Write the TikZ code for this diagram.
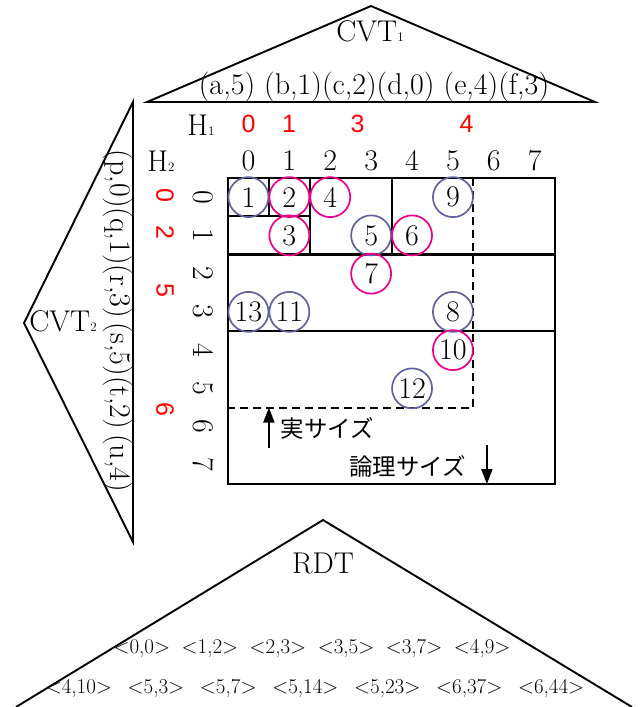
\documentclass[tikz,border=0pt]{standalone}
\usepackage{fontspec}
\usepackage{xcolor}
\usepackage{tikz}
\usetikzlibrary{arrows.meta}
\newfontfamily\redfont{Liberation Sans}
\newfontfamily\jpfont{Noto Sans CJK JP}
\definecolor{cvtblue}{RGB}{98,98,158}
\newcommand{\tinysub}[1]{{\fontsize{13}{13}\selectfont #1}}

\begin{document}
\begin{tikzpicture}[x=1pt, y=-1pt,
    big/.style={font=\fontsize{30}{36}\selectfont, inner sep=0pt},
    hred/.style={font=\redfont\fontsize{25}{30}\selectfont, text=red, inner sep=0pt},
    rdtrow/.style={font=\fontsize{21}{25}\selectfont, inner sep=0pt},
    jp/.style={font=\jpfont\fontsize{23.5}{28}\selectfont, inner sep=0pt, anchor=west},
    tri/.style={line width=1.9pt, line join=miter},
    rec/.style={circle, draw, line width=1.7pt, minimum size=40pt, inner sep=0pt,
                font=\fontsize{30}{36}\selectfont},
    old/.style={rec, draw=cvtblue},
    new/.style={rec, draw=magenta},
    sizearrow/.style={line width=1.9pt, -{Triangle[length=15pt, width=11pt]}}]
  \useasboundingbox (0,0) rectangle (642,707);

  % CVT1 (top)
  \coordinate (t1l) at (147,102);
  \coordinate (t1a) at (371,6);
  \coordinate (t1r) at (595,102);
  \draw[tri] (t1l) -- (t1a) -- (t1r) -- cycle;
  \node[big] (cvt1) at (370,31) {CVT\tinysub{1}};
  \node[big] (cvt1keys) at (374,87.5) {(a,5) (b,1)(c,2)(d,0) (e,4)(f,3)};

  % CVT2 (left)
  \coordinate (t2t) at (133,102);
  \coordinate (t2a) at (24,323);
  \coordinate (t2b) at (133,542);
  \draw[tri] (t2t) -- (t2a) -- (t2b) -- cycle;
  \node[big] (cvt2) at (63,321) {CVT\tinysub{2}};
  \node[big, rotate=-90] (cvt2keys) at (118,321) {(p,0)(q,1)(r,3)\,(s,5)(t,2)\,(u,4)};

  % history tables
  \node[big] (h1) at (201,125.5) {H\tinysub{1}};
  \node[big] (h2) at (161,161.5) {H\tinysub{2}};
  \node[hred] (h1a) at (248.5,123.5) {0};
  \node[hred] (h1b) at (289,123.5) {1};
  \node[hred] (h1c) at (357.5,123.5) {3};
  \node[hred] (h1d) at (466.5,123.5) {4};
  \node[hred, rotate=-90] (h2a) at (165,195) {0};
  \node[hred, rotate=-90] (h2b) at (165,232.5) {2};
  \node[hred, rotate=-90] (h2c) at (165,290) {5};
  \node[hred, rotate=-90] (h2d) at (165,409) {6};

  % logical array
  \begin{scope}[shift={(228,178)}, x=40.9pt, y=-38.25pt]
    \node[big] (col0) at (0.5,-0.45) {0};
    \node[big] (col1) at (1.5,-0.45) {1};
    \node[big] (col2) at (2.5,-0.45) {2};
    \node[big] (col3) at (3.5,-0.45) {3};
    \node[big] (col4) at (4.5,-0.45) {4};
    \node[big] (col5) at (5.5,-0.45) {5};
    \node[big] (col6) at (6.5,-0.45) {6};
    \node[big] (col7) at (7.5,-0.45) {7};
    \node[big, rotate=-90] (row0) at (-0.6,0.5) {0};
    \node[big, rotate=-90] (row1) at (-0.6,1.5) {1};
    \node[big, rotate=-90] (row2) at (-0.6,2.5) {2};
    \node[big, rotate=-90] (row3) at (-0.6,3.5) {3};
    \node[big, rotate=-90] (row4) at (-0.6,4.5) {4};
    \node[big, rotate=-90] (row5) at (-0.6,5.5) {5};
    \node[big, rotate=-90] (row6) at (-0.6,6.5) {6};
    \node[big, rotate=-90] (row7) at (-0.6,7.5) {7};

    \draw[line width=2.2pt] (0,0) rectangle (8,8);
    \draw[line width=2.2pt] (0,2) -- (8,2) (0,4) -- (8,4);
    \draw[line width=2.2pt] (0,1) -- (2,1) (1,0) -- (1,1) (2,0) -- (2,2) (4,0) -- (4,2);
    \draw[line width=2pt, dash pattern=on 8pt off 5pt] (6,0) -- (6,6) -- (0,6);

    \node[old] (r1)  at (0.5,0.5) {1};
    \node[new] (r2)  at (1.5,0.5) {2};
    \node[new] (r4)  at (2.5,0.5) {4};
    \node[old] (r9)  at (5.5,0.5) {9};
    \node[new] (r3)  at (1.5,1.5) {3};
    \node[old] (r5)  at (3.5,1.5) {5};
    \node[new] (r6)  at (4.5,1.5) {6};
    \node[new] (r7)  at (3.5,2.5) {7};
    \node[old] (r13) at (0.5,3.5) {13};
    \node[old] (r11) at (1.5,3.5) {11};
    \node[old] (r8)  at (5.5,3.5) {8};
    \node[new] (r10) at (5.5,4.5) {10};
    \node[old] (r12) at (4.5,5.5) {12};

    \coordinate (realtail) at (1,7.05);
    \coordinate (realhead) at (1,6);
    \draw[sizearrow] (realtail) -- (realhead);
    \node[jp] (real) at (1.28,6.54) {実サイズ};
    \coordinate (logtail) at (6.33,6.98);
    \coordinate (loghead) at (6.33,8);
    \draw[sizearrow] (logtail) -- (loghead);
    \node[jp] (logical) at (2.96,7.53) {論理サイズ};
  \end{scope}

  % RDT (bottom)
  \coordinate (rdtl) at (16,707);
  \coordinate (rdta) at (323,520);
  \coordinate (rdtr) at (632,707);
  \draw[tri] (rdtl) -- (rdta) -- (rdtr);
  \node[big] (rdt) at (323,563) {RDT};
  \node[rdtrow] (rdtkeys1) at (312,648)
    {<0,0>\hspace{0.55em}<1,2>\hspace{0.55em}<2,3>\hspace{0.55em}<3,5>\hspace{0.55em}<3,7>\hspace{0.55em}<4,9>};
  \node[rdtrow] (rdtkeys2) at (315,688)
    {<4,10>\hspace{0.75em}<5,3>\hspace{0.75em}<5,7>\hspace{0.75em}<5,14>\hspace{0.75em}<5,23>\hspace{0.75em}<6,37>\hspace{0.75em}<6,44>};
\end{tikzpicture}
\end{document}
